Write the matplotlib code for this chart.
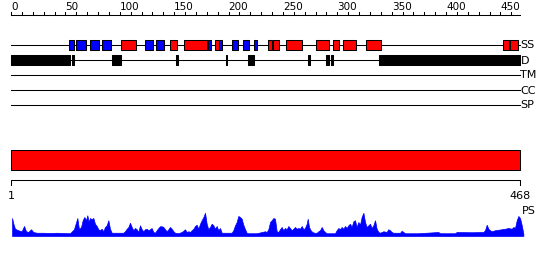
#!/usr/bin/env python3

import matplotlib
matplotlib.use("Agg")
import matplotlib.pyplot as plt

seq_len = 468

# secondary structure (start, end) in residues
strands = [(53, 58), (60, 69), (73, 81), (84, 92), (123, 131), (133, 141),
           (181, 184), (191.5, 194), (203, 209), (213, 219), (223, 226)]
helices = [(101, 115), (146, 153), (159, 180), (188, 191.5), (236, 240),
           (241, 246), (253, 268), (280, 292), (296, 302), (305, 317),
           (326, 340), (452, 458), (459, 466)]

# disordered regions
disorder = [(0, 54), (56.5, 58), (93, 101), (152, 154), (197.5, 199),
            (218, 223), (273, 275), (290, 292.5), (294, 296), (338, 468)]

track_names = ["SS", "D", "TM", "CC", "SP"]

# PS profile (residue, score)
ps_pos = [1, 2.2, 3.7, 6.7, 9.8, 12.0, 13.8, 15.9, 18.4, 20.5, 23.6, 29.7, 35.9,
          42.0, 48.1, 54.3, 57.9, 61.0, 62.5, 64.4, 65.9, 67.4, 69.0, 70.2, 71.4,
          72.6, 74.2, 75.7, 77.2, 78.8, 80.3, 81.8, 83.4, 84.9, 86.4, 88.0, 89.5,
          91.0, 92.6, 97.2, 103.3, 104.8, 106.4, 107.9, 109.4, 111.0, 112.5,
          114.0, 115.6, 117.1, 118.6, 120.2, 121.7, 123.2, 124.7, 126.3, 127.8,
          129.3, 130.9, 132.4, 133.9, 135.5, 137.0, 138.5, 140.1, 141.6, 143.1,
          144.7, 146.2, 147.7, 149.3, 150.8, 153.9, 156.9, 158.5, 160.0, 161.5,
          163.1, 164.6, 166.1, 167.7, 169.2, 170.7, 172.3, 173.8, 175.3, 176.9,
          178.4, 179.9, 181.4, 183.0, 184.5, 186.0, 187.6, 189.1, 190.6, 192.2,
          193.7, 198.3, 202.9, 204.4, 206.0, 207.5, 209.0, 210.6, 212.1, 213.6,
          215.2, 216.7, 218.2, 225.9, 233.6, 235.1, 236.6, 238.2, 239.7, 241.2,
          242.7, 244.3, 245.8, 247.3, 248.9, 250.4, 251.9, 253.5, 255.0, 256.5,
          258.1, 259.6, 261.1, 262.7, 264.2, 265.7, 267.3, 268.8, 270.3, 271.9,
          272.8, 274.0, 275.5, 277.1, 278.9, 281.1, 282.6, 284.1, 285.7, 287.2,
          288.7, 290.2, 297.9, 299.4, 301.0, 302.5, 304.0, 305.6, 307.1, 308.6,
          310.2, 311.7, 313.2, 314.8, 316.3, 317.8, 319.4, 320.9, 322.4, 324.0,
          325.5, 327.0, 328.6, 330.1, 331.6, 333.2, 334.7, 336.2, 337.8, 339.3,
          342.4, 345.4, 346.9, 348.5, 350.0, 351.5, 357.7, 359.2, 360.7, 362.3,
          374.5, 392.9, 394.5, 408.2, 409.8, 423.6, 434.3, 435.8, 437.4, 438.9,
          440.4, 442.0, 445.0, 448.1, 451.2, 454.2, 457.3, 460.4, 461.9, 463.4,
          465.0, 466.5, 468.0, 469.6, 471.1]
ps_val = [0.72, 0.49, 0.29, 0.23, 0.19, 0.40, 0.19, 0.16, 0.27, 0.16, 0.13, 0.13,
          0.12, 0.13, 0.12, 0.11, 0.27, 0.72, 0.27, 0.36, 0.63, 0.76, 0.63, 0.83,
          0.56, 0.72, 0.67, 0.72, 0.49, 0.40, 0.27, 0.23, 0.29, 0.19, 0.36, 0.43,
          0.63, 0.29, 0.13, 0.13, 0.13, 0.19, 0.29, 0.36, 0.53, 0.36, 0.23, 0.32,
          0.27, 0.16, 0.43, 0.27, 0.19, 0.27, 0.29, 0.23, 0.27, 0.32, 0.16, 0.13,
          0.23, 0.32, 0.39, 0.39, 0.36, 0.27, 0.19, 0.27, 0.36, 0.29, 0.19, 0.13,
          0.11, 0.16, 0.21, 0.27, 0.16, 0.19, 0.16, 0.23, 0.29, 0.40, 0.45, 0.29,
          0.49, 0.63, 0.76, 0.93, 0.49, 0.27, 0.36, 0.49, 0.43, 0.29, 0.40, 0.23,
          0.32, 0.13, 0.13, 0.13, 0.23, 0.43, 0.56, 0.80, 0.76, 0.69, 0.45, 0.27,
          0.13, 0.11, 0.11, 0.19, 0.16, 0.27, 0.56, 0.63, 0.72, 0.69, 0.19, 0.16,
          0.27, 0.36, 0.23, 0.32, 0.27, 0.40, 0.32, 0.23, 0.29, 0.36, 0.29, 0.32,
          0.29, 0.40, 0.27, 0.32, 0.49, 0.69, 0.36, 0.23, 0.16, 0.13, 0.13, 0.19,
          0.23, 0.36, 0.23, 0.16, 0.11, 0.11, 0.23, 0.32, 0.27, 0.36, 0.29, 0.40,
          0.32, 0.43, 0.49, 0.36, 0.59, 0.63, 0.36, 0.56, 0.45, 0.76, 0.93, 0.56,
          0.36, 0.43, 0.49, 0.32, 0.43, 0.63, 0.29, 0.16, 0.13, 0.19, 0.16, 0.27,
          0.23, 0.16, 0.13, 0.13, 0.21, 0.16, 0.11, 0.11, 0.16, 0.11, 0.11, 0.16,
          0.15, 0.16, 0.23, 0.45, 0.29, 0.23, 0.19, 0.23, 0.25, 0.27, 0.29, 0.32,
          0.29, 0.36, 0.32, 0.63, 0.80, 0.72, 0.43, 0.09]

W, H = 550, 260
x0 = 11            # pixel where residue 0 sits
k = 509 / seq_len  # pixels per residue


def main():
    fig = plt.figure(figsize=(W / 100, H / 100), dpi=100)
    ax = fig.add_axes([0, 0, 1, 1])
    ax.set_xlim(-x0 / k, (W - x0) / k)
    ax.set_ylim(H, 0)
    ax.axis("off")
    lw = 0.75

    # ruler on top
    ax.plot([0, seq_len], [15, 15], color="black", lw=lw)
    for t in range(0, seq_len, 10):
        ax.plot([t, t], [15, 12], color="black", lw=lw)
        if t % 50 == 0:
            ax.text(t, 10.5, str(t), ha="left", va="baseline", fontsize=7.5)

    # tracks
    ys = [45, 60, 75, 90, 105]
    for name, y in zip(track_names, ys):
        ax.plot([0, seq_len], [y, y], color="black", lw=lw, zorder=1)
        ax.text(seq_len + 0.4 / k, y + 0.5, name, ha="left", va="center", fontsize=8)

    ax.broken_barh([(s, e - s) for s, e in strands], (40, 10),
                   facecolors="#0000ff", edgecolors="black", lw=lw, zorder=2)
    ax.broken_barh([(s, e - s) for s, e in helices], (40, 10),
                   facecolors="#ff0000", edgecolors="black", lw=lw, zorder=2)
    ax.broken_barh([(s, e - s) for s, e in disorder], (55, 10),
                   facecolors="black", edgecolors="black", lw=lw, zorder=2)

    # full-length bar
    ax.broken_barh([(0, seq_len)], (150, 20), facecolors="#ff0000",
                   edgecolors="black", lw=lw)

    # bottom ruler
    ax.plot([0, 0, seq_len, seq_len], [185, 180, 180, 185], color="black", lw=lw)
    ax.text(0, 196, "1", ha="center", va="center", fontsize=8)
    ax.text(seq_len, 196, str(seq_len), ha="center", va="center", fontsize=8)
    ax.text(seq_len + 1.5 / k, 211, "PS", ha="left", va="center", fontsize=8)

    # PS profile
    ax2 = fig.add_axes([0, (H - 236) / H, 1, 25 / H])
    ax2.set_xlim(-x0 / k, (W - x0) / k)
    ax2.set_ylim(0, 1)
    ax2.axis("off")
    ax2.fill_between(ps_pos, 0, ps_val, color="#0000ff", lw=0.5)

    fig.savefig("out.png", dpi=100)


if __name__ == "__main__":
    main()
